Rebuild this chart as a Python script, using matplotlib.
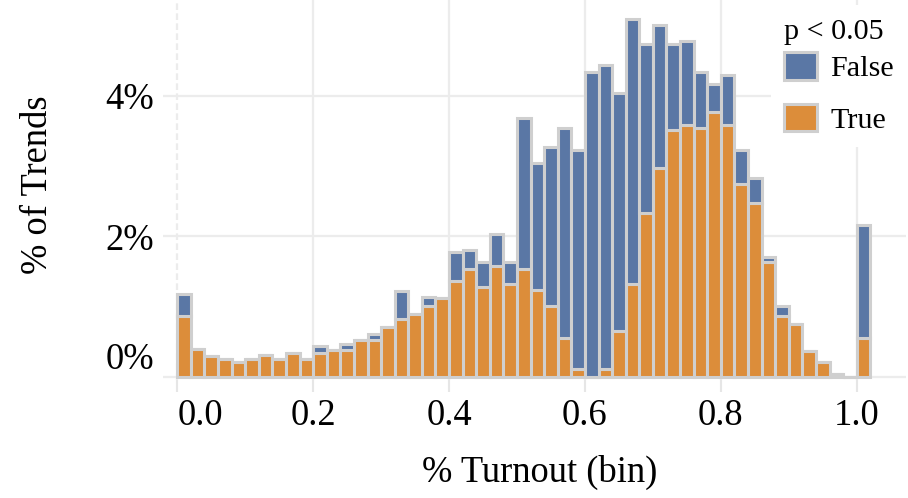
import matplotlib
matplotlib.use("Agg")
import matplotlib.pyplot as plt

# ---- data (percent of trends per 0.02-wide turnout bin) ----
bin_start = [0.00, 0.02, 0.04, 0.06, 0.08, 0.10, 0.12, 0.14, 0.16, 0.18,
             0.20, 0.22, 0.24, 0.26, 0.28, 0.30, 0.32, 0.34, 0.36, 0.38,
             0.40, 0.42, 0.44, 0.46, 0.48, 0.50, 0.52, 0.54, 0.56, 0.58,
             0.60, 0.62, 0.64, 0.66, 0.68, 0.70, 0.72, 0.74, 0.76, 0.78,
             0.80, 0.82, 0.84, 0.86, 0.88, 0.90, 0.92, 0.94, 0.96, 0.98,
             1.00]
true_pct = [0.86, 0.39, 0.29, 0.25, 0.20, 0.25, 0.30, 0.25, 0.34, 0.25,
            0.34, 0.38, 0.38, 0.52, 0.52, 0.70, 0.82, 0.89, 1.01, 1.12,
            1.36, 1.54, 1.27, 1.58, 1.32, 1.54, 1.23, 1.01, 0.55, 0.11,
            0.00, 0.11, 0.65, 1.32, 2.33, 2.97, 3.51, 3.59, 3.55, 3.77,
            3.59, 2.75, 2.48, 1.63, 0.86, 0.75, 0.37, 0.21, 0.03, 0.00,
            0.55]
false_pct = [0.32, 0.00, 0.00, 0.00, 0.00, 0.00, 0.00, 0.00, 0.00, 0.00,
             0.09, 0.00, 0.09, 0.00, 0.08, 0.00, 0.40, 0.00, 0.13, 0.00,
             0.41, 0.27, 0.36, 0.45, 0.31, 2.15, 1.82, 2.27, 3.00, 3.12,
             4.35, 4.33, 3.39, 3.78, 2.42, 2.05, 1.24, 1.20, 0.80, 0.40,
             0.71, 0.48, 0.35, 0.08, 0.15, 0.00, 0.00, 0.00, 0.00, 0.00,
             1.61]
x_ticks = [0.0, 0.2, 0.4, 0.6, 0.8, 1.0]
x_ticklabels = ["0.0", "0.2", "0.4", "0.6", "0.8", "1.0"]
y_ticks = [0, 2, 4]
y_ticklabels = ["0%", "2%", "4%"]
series_names = ["False", "True"]
legend_title = "p < 0.05"
x_title = "% Turnout (bin)"
y_title = "% of Trends"

# ---- style ----
BLUE = "#5a77a5"
ORANGE = "#dc8d3a"
STROKE = "#cfcfcf"
GRID = "#ececec"
FONT = "Liberation Serif"
plt.rcParams["font.family"] = [FONT, "DejaVu Serif"]

W, H = 908, 498
fig = plt.figure(figsize=(W / 100, H / 100), dpi=100)
ax_l, ax_r, ax_t, ax_b = 163, 906, 0, 380
ax = fig.add_axes([ax_l / W, 1 - ax_b / H, (ax_r - ax_l) / W, (ax_b - ax_t) / H])

px_per_unit = 679.4
x0_px = 177.3
ax.set_xlim(-(x0_px - ax_l) / px_per_unit, 1 + (ax_r - (x0_px + px_per_unit)) / px_per_unit)
px_per_pct = 70.1
y0_px = 376.5
ax.set_ylim(-(ax_b - y0_px) / px_per_pct, (y0_px - ax_t) / px_per_pct)

b_true = ax.bar(bin_start, true_pct, width=0.02, align="edge", color=ORANGE,
                edgecolor=STROKE, linewidth=2.2, zorder=3)
b_false = ax.bar(bin_start, false_pct, bottom=true_pct, width=0.02, align="edge",
                 color=BLUE, edgecolor=STROKE, linewidth=2.2, zorder=3)

for s in ax.spines.values():
    s.set_visible(False)
ax.set_axisbelow(True)
ax.grid(True, color=GRID, linewidth=1.6, zorder=0)

ax.set_xticks(x_ticks)
ax.set_xticklabels(x_ticklabels)
ax.set_yticks(y_ticks)
ax.set_yticklabels(y_ticklabels)
ax.tick_params(axis="x", length=8.6, width=1.5, color="#e6e6e6", pad=5.0,
               labelsize=26.3, labelcolor="black")
ax.tick_params(axis="y", length=0, pad=6.5, labelsize=26.3, labelcolor="black")

# flush first labels like the original
ax.xaxis.get_major_ticks()[0].label1.set_horizontalalignment("left")
ax.yaxis.get_major_ticks()[0].label1.set_verticalalignment("bottom")
ax.xaxis.get_major_ticks()[0].gridline.set_linestyle((0, (3, 1.5)))

ax.set_xlabel(x_title, fontsize=26.3)
ax.xaxis.label.set_verticalalignment("center")
ax.xaxis.set_label_coords((540 - ax_l) / (ax_r - ax_l), (ax_b - 472) / (ax_b - ax_t))
ax.set_ylabel(y_title, fontsize=26.3)
ax.yaxis.label.set_verticalalignment("center")
ax.yaxis.set_label_coords((37.5 - ax_l) / (ax_r - ax_l), (ax_b - 185) / (ax_b - ax_t))

leg = ax.legend(handles=[b_false, b_true], labels=series_names, title=legend_title,
                loc="upper left", bbox_to_anchor=((784 - 13.4) / W, 1.0 - 5 / H),
                bbox_transform=fig.transFigure, fontsize=21.7, title_fontsize=21.7,
                frameon=True, framealpha=1, facecolor="white", edgecolor="none",
                fancybox=False, borderpad=0.45, borderaxespad=0,
                handlelength=1.1, handleheight=1.03, handletextpad=0.43,
                labelspacing=0.72, alignment="left")
leg.set_zorder(5)
leg._legend_box.sep = 5.4

fig.savefig("out.png", dpi=100)
